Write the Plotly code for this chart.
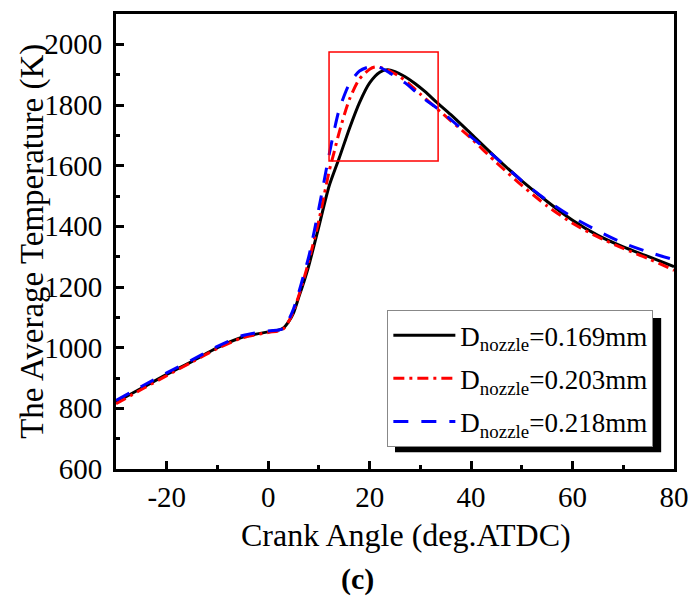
import plotly.graph_objects as go

# Crank angle (deg ATDC) and average temperature (K) per nozzle diameter
x_169 = [-30, -25, -20, -15, -10, -5, 0, 2, 3, 4, 5, 6, 7, 8, 10, 12, 14, 16, 18, 20, 22, 23.5, 25, 27, 29, 31, 33, 36, 40, 45, 50, 55, 60, 65, 70, 75, 80]
t_169 = [820, 866, 912, 955, 1000, 1035, 1052, 1058, 1065, 1085, 1115, 1165, 1215, 1270, 1400, 1532, 1625, 1722, 1808, 1873, 1908, 1916, 1910, 1893, 1870, 1843, 1812, 1768, 1705, 1625, 1550, 1482, 1420, 1370, 1332, 1300, 1267]

x_203 = [-30, -25, -20, -15, -10, -5, 0, 2, 3, 4, 5, 6, 7, 8, 10, 12, 13, 14, 16, 18, 20, 21, 22, 24, 26, 28, 30, 34, 40, 45, 50, 55, 60, 65, 70, 75, 80]
t_203 = [815, 862, 908, 953, 997, 1033, 1050, 1055, 1062, 1085, 1120, 1170, 1225, 1285, 1420, 1580, 1645, 1710, 1818, 1886, 1918, 1925, 1924, 1912, 1893, 1866, 1836, 1777, 1690, 1610, 1535, 1467, 1410, 1365, 1327, 1293, 1255]

x_218 = [-30, -25, -20, -15, -10, -5, 0, 2, 3, 4, 5, 6, 7, 8, 10, 12, 13, 14, 16, 18, 20, 22, 24, 27, 30, 34, 40, 45, 50, 55, 60, 65, 70, 75, 80]
t_218 = [826, 872, 917, 960, 1004, 1040, 1055, 1058, 1063, 1090, 1128, 1180, 1240, 1300, 1460, 1635, 1715, 1785, 1870, 1912, 1926, 1924, 1905, 1873, 1830, 1780, 1695, 1625, 1550, 1485, 1430, 1385, 1345, 1315, 1290]

names = ["D<sub>nozzle</sub>=0.169mm", "D<sub>nozzle</sub>=0.203mm", "D<sub>nozzle</sub>=0.218mm"]
colors = ["#000000", "#FF0000", "#0000FF"]
dashes = ["solid", "11px,5px,3px,5px", "15px,13px"]

x_tickvals = [-20, 0, 20, 40, 60, 80]
x_ticktext = ["-20", "0", "20", "40", "60", "80"]
y_tickvals = [600, 800, 1000, 1200, 1400, 1600, 1800, 2000]
y_ticktext = ["600", "800", "1000", "1200", "1400", "1600", "1800", "2000"]

# highlighted region box (deg, K)
box_x = [12, 33.5]
box_y = [1615, 1975]

FONT = "Liberation Serif"

fig = go.Figure()
for i, (xs, ts, n, c, d) in enumerate(zip([x_169, x_203, x_218], [t_169, t_203, t_218], names, colors, dashes)):
    fig.add_trace(go.Scatter(x=xs, y=ts, mode="lines", name=n, legendgroup=f"g{i}",
                             line=dict(color=c, width=3, dash=d, shape="spline", smoothing=0.7)))

fig.add_shape(type="rect", xref="x", yref="y", x0=box_x[0], x1=box_x[1], y0=box_y[0], y1=box_y[1],
              line=dict(color="#FF0000", width=1.5), layer="above")

# legend shadow (offset 8 px right/down of the legend box)
fig.add_shape(type="rect", xref="paper", yref="paper", x0=0.5, x1=0.977, y0=0.037, y1=0.332,
              fillcolor="black", line=dict(width=0), layer="above")

axis_common = dict(showline=True, linecolor="black", linewidth=3, mirror=True,
                   ticks="inside", ticklen=8, tickwidth=2.5, tickcolor="black",
                   showgrid=False, zeroline=False, tickmode="array",
                   ticklabeloverflow="allow",
                   tickfont=dict(family=FONT, size=29, color="black"))

fig.update_xaxes(range=[-30, 80], tickvals=x_tickvals, ticktext=x_ticktext,
                 minor=dict(tickmode="linear", tick0=0, dtick=10, ticks="inside", ticklen=4,
                            tickwidth=2.5, tickcolor="black"),
                 **axis_common)
fig.update_yaxes(range=[600, 2100], tickvals=y_tickvals, ticktext=y_ticktext,
                 minor=dict(tickmode="linear", tick0=600, dtick=100, ticks="inside", ticklen=4,
                            tickwidth=2.5, tickcolor="black"),
                 ticklabelstandoff=5, **axis_common)

fig.add_annotation(text="Crank Angle (deg.ATDC)", xref="paper", yref="paper", x=0.52, y=-0.146,
                   xanchor="center", yanchor="middle", showarrow=False,
                   font=dict(family=FONT, size=32, color="black"))
fig.add_annotation(text="The Average Temperature (K)", xref="paper", yref="paper", x=-0.15, y=0.5,
                   xanchor="center", yanchor="middle", textangle=-90, showarrow=False,
                   font=dict(family=FONT, size=33, color="black"))
fig.add_annotation(text="<b>(c)</b>", xref="paper", yref="paper", x=0.432, y=-0.242,
                   xanchor="center", yanchor="middle", showarrow=False,
                   font=dict(family=FONT, size=30, color="black"))

fig.update_layout(
    width=700, height=606,
    margin=dict(l=116, r=14, t=11, b=137),
    paper_bgcolor="white", plot_bgcolor="white",
    showlegend=True,
    legend=dict(x=0.963, y=0.349, xanchor="right", yanchor="top",
                bgcolor="white", bordercolor="#888888", borderwidth=1,
                font=dict(family=FONT, size=27, color="black"),
                tracegroupgap=5, itemwidth=62),
)

fig.write_html("out.html")
